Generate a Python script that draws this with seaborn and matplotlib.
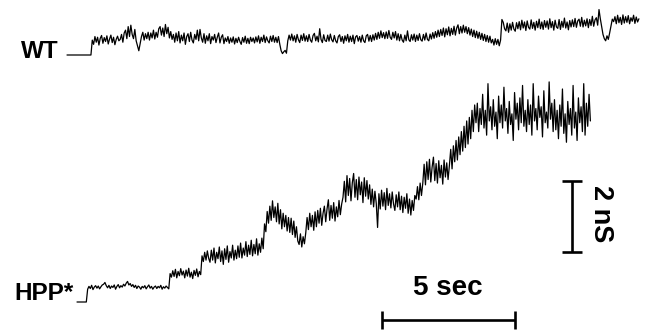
import numpy as np
import pandas as pd
import matplotlib
matplotlib.use("Agg")
import matplotlib.pyplot as plt
import seaborn as sns

# ---- data (conductance in nS relative to each trace's closed level, 0.05 s sampling) ----
dt = 0.05
wt_nS = [
    0, 0, 0, 0, 0, 0, 0, 0, 0, 0, 0, 0, 0, 0, 0, 0, 0, 0, 0, 0.42,
    0.30, 0.52, 0.36, 0.50, 0.28, 0.47, 0.55, 0.33, 0.49, 0.38, 0.54, 0.31, 0.45, 0.56, 0.35, 0.50, 0.29, 0.44, 0.53, 0.40,
    0.44, 0.58, 0.36, 0.62, 0.70, 0.46, 0.80, 0.52, 0.84, 0.58, 0.46, 0.72, 0.40, 0.26, 0.12, 0.32, 0.52, 0.64, 0.42, 0.60,
    0.46, 0.64, 0.42, 0.62, 0.48, 0.70, 0.45, 0.64, 0.50, 0.74, 0.80, 0.56, 0.76, 0.52, 0.86, 0.60, 0.78, 0.48, 0.66, 0.44,
    0.58, 0.36, 0.62, 0.40, 0.66, 0.34, 0.56, 0.40, 0.62, 0.30, 0.52, 0.60, 0.38, 0.64, 0.42, 0.34, 0.58, 0.44, 0.70, 0.40,
    0.72, 0.48, 0.36, 0.60, 0.33, 0.54, 0.40, 0.60, 0.32, 0.52, 0.42, 0.58, 0.35, 0.50, 0.62, 0.34, 0.50, 0.57, 0.32, 0.48,
    0.38, 0.52, 0.33, 0.48, 0.36, 0.51, 0.31, 0.47, 0.35, 0.50, 0.38, 0.30, 0.49, 0.36, 0.53, 0.33, 0.47, 0.32, 0.50, 0.38,
    0.48, 0.34, 0.51, 0.37, 0.54, 0.33, 0.50, 0.38, 0.56, 0.35, 0.51, 0.40, 0.34, 0.53, 0.38, 0.55, 0.36, 0.50, 0.35, 0.52,
    0.30, 0.12, 0.04, 0.09, 0.13, 0.05, 0.40, 0.56, 0.42, 0.59, 0.40, 0.54, 0.36, 0.58, 0.43, 0.35, 0.56, 0.41, 0.60, 0.39,
    0.54, 0.38, 0.58, 0.42, 0.36, 0.55, 0.61, 0.40, 0.53, 0.37, 0.74, 0.44, 0.35, 0.57, 0.41, 0.38, 0.56, 0.39, 0.59, 0.43,
    0.37, 0.55, 0.40, 0.34, 0.52, 0.57, 0.38, 0.52, 0.33, 0.54, 0.40, 0.58, 0.36, 0.53, 0.38, 0.56, 0.32, 0.51, 0.55, 0.39,
    0.52, 0.36, 0.56, 0.40, 0.35, 0.54, 0.58, 0.39, 0.55, 0.38, 0.57, 0.42, 0.61, 0.44, 0.64, 0.47, 0.68, 0.49, 0.63, 0.46,
    0.65, 0.47, 0.69, 0.50, 0.44, 0.64, 0.48, 0.66, 0.42, 0.60, 0.40, 0.58, 0.42, 0.36, 0.56, 0.40, 0.68, 0.43, 0.38, 0.57,
    0.42, 0.59, 0.38, 0.56, 0.41, 0.60, 0.43, 0.39, 0.58, 0.42, 0.62, 0.44, 0.40, 0.59, 0.45, 0.63, 0.47, 0.66, 0.50, 0.70,
    0.52, 0.72, 0.55, 0.76, 0.51, 0.74, 0.57, 0.79, 0.54, 0.75, 0.58, 0.81, 0.56, 0.76, 0.85, 0.60, 0.80, 0.62, 0.84, 0.64,
    0.80, 0.60, 0.77, 0.56, 0.73, 0.52, 0.70, 0.49, 0.67, 0.47, 0.64, 0.44, 0.61, 0.41, 0.58, 0.38, 0.55, 0.36, 0.53, 0.34,
    0.44, 0.28, 0.46, 0.30, 0.44, 0.26, 0.42, 1.00, 0.92, 0.74, 0.68, 0.90, 0.64, 0.88, 0.70, 0.92, 0.73, 0.67, 0.91, 0.74,
    0.94, 0.71, 0.98, 0.76, 0.93, 0.69, 0.96, 0.78, 0.73, 0.99, 0.75, 0.92, 0.70, 0.95, 0.77, 1.01, 0.74, 0.93, 0.72, 0.97,
    0.78, 0.96, 0.73, 1.02, 0.77, 0.94, 0.70, 0.98, 0.79, 0.75, 1.00, 0.72, 0.95, 0.78, 1.04, 0.76, 0.93, 0.71, 0.97, 0.79,
    0.99, 0.80, 1.03, 0.78, 0.96, 1.01, 0.81, 1.06, 0.79, 0.98, 0.82, 1.02, 0.77, 1.00, 0.83, 1.09, 0.81, 0.99, 1.05, 0.84,
    1.28, 1.02, 0.80, 0.58, 0.46, 0.40, 0.54, 0.44, 0.62, 0.82, 1.01, 0.94, 1.08, 0.88, 1.12, 0.91, 1.06, 0.86, 1.13, 0.90,
    1.08, 0.92, 1.11, 0.88, 1.05, 0.95, 1.12, 0.89, 1.07, 0.93, 1.02]

hpp_nS = [
    0, 0, 0, 0, 0, 0, 0, 0, 0.36, 0.44, 0.38, 0.47, 0.35, 0.42, 0.46, 0.39, 0.45, 0.37, 0.43, 0.48,
    0.50, 0.55, 0.46, 0.40, 0.47, 0.38, 0.45, 0.41, 0.48, 0.36, 0.44, 0.49, 0.40, 0.46, 0.42, 0.50, 0.45, 0.53, 0.58, 0.48,
    0.52, 0.44, 0.49, 0.41, 0.47, 0.38, 0.45, 0.42, 0.36, 0.44, 0.40, 0.46, 0.37, 0.43, 0.48, 0.39, 0.44, 0.36, 0.42, 0.45,
    0.38, 0.44, 0.40, 0.47, 0.36, 0.43, 0.39, 0.45, 0.41, 0.37, 0.80, 0.70, 0.88, 0.72, 0.92, 0.68, 0.86, 0.74, 0.94, 0.76,
    0.87, 0.68, 0.90, 0.73, 0.95, 0.70, 0.84, 0.66, 0.89, 0.75, 0.93, 0.71, 0.86, 0.77, 1.30, 1.14, 1.40, 1.18, 1.44, 1.23,
    1.12, 1.46, 1.18, 1.52, 1.10, 1.40, 1.22, 1.55, 1.14, 1.44, 1.06, 1.50, 1.20, 1.58, 1.12, 1.42, 1.24, 1.60, 1.18, 1.46,
    1.22, 1.58, 1.26, 1.66, 1.24, 1.52, 1.32, 1.70, 1.28, 1.60, 1.34, 1.74, 1.30, 1.62, 1.36, 1.78, 1.32, 1.64, 1.40, 1.80,
    1.50, 2.20, 1.98, 2.55, 2.22, 2.70, 2.30, 2.85, 2.38, 2.68, 2.26, 2.78, 2.20, 2.60, 2.06, 2.50, 2.12, 2.44, 2.00, 2.38,
    1.96, 2.36, 1.90, 2.28, 1.82, 2.12, 1.72, 1.62, 1.92, 1.55, 1.84, 1.64, 1.95, 2.38, 2.04, 2.50, 2.12, 2.44, 2.02, 2.54,
    2.12, 2.58, 2.22, 2.64, 2.16, 2.50, 2.70, 2.26, 2.62, 2.88, 2.30, 2.72, 2.36, 2.80, 2.28, 2.68, 2.40, 2.86, 2.46, 2.76,
    2.95, 3.40, 2.82, 3.56, 3.00, 3.48, 2.85, 3.36, 3.62, 2.95, 3.45, 2.88, 3.52, 3.02, 3.38, 2.80, 3.50, 2.98, 3.42, 2.90,
    3.30, 2.75, 3.18, 2.68, 3.12, 2.78, 2.10, 3.05, 2.62, 3.15, 2.70, 3.08, 2.60, 3.20, 2.72, 3.05, 2.65, 3.10, 2.76, 2.58,
    3.02, 2.68, 3.10, 2.60, 2.98, 2.52, 2.95, 2.64, 3.05, 2.50, 2.90, 2.45, 2.86, 2.58, 3.00, 2.90, 3.25, 2.88, 3.35, 3.00,
    3.35, 3.88, 3.30, 3.95, 3.45, 4.02, 3.38, 3.80, 4.08, 3.42, 3.90, 3.35, 3.98, 3.50, 3.85, 3.32, 4.00, 3.52, 3.92, 3.45,
    3.85, 4.30, 3.75, 4.40, 3.95, 4.55, 4.00, 4.65, 4.15, 4.80, 4.25, 4.95, 4.35, 5.10, 4.45, 5.20, 4.60, 5.40, 4.80, 5.55,
    5.05, 5.60, 4.80, 5.45, 5.00, 5.85, 4.90, 5.40, 4.70, 6.15, 5.10, 5.50, 4.85, 5.70, 4.95, 5.35, 4.60, 5.80, 5.05, 5.55,
    4.90, 6.05, 5.10, 5.45, 4.75, 5.65, 5.00, 5.30, 4.55, 5.90, 5.15, 5.60, 4.85, 5.75, 5.05, 6.10, 4.95, 5.40, 4.80, 5.70,
    5.00, 5.55, 4.70, 6.15, 5.10, 5.45, 4.85, 5.80, 5.20, 5.50, 4.65, 5.95, 5.05, 5.35, 4.90, 6.20, 5.15, 5.60, 4.80, 5.70,
    4.85, 5.40, 4.60, 5.55, 4.95, 6.00, 4.75, 5.30, 4.50, 5.65, 5.00, 5.45, 4.70, 6.10, 4.90, 5.35, 4.55, 5.75, 5.05, 5.50,
    4.80, 6.15, 4.70, 5.60, 4.95, 5.85, 5.10]

scale_sec = 5
scale_nS = 2
labels = ["WT", "HPP*"]

# ---- layout (pixel calibration of the figure) ----
W, H = 654, 330
PX_PER_S, PX_PER_NS = 26.6, 35.5
X0, Y0 = 67, 302          # px of t=0, g=0


def tx(px):
    return (px - X0) / PX_PER_S


def gy(py):
    return (Y0 - py) / PX_PER_NS


wt_offset = gy(55)
hpp_t0 = tx(77)

t_wt = np.arange(len(wt_nS)) * dt
t_hpp = hpp_t0 + np.arange(len(hpp_nS)) * dt
df_wt = pd.DataFrame({"t": t_wt, "g": np.array(wt_nS) + wt_offset})
df_hpp = pd.DataFrame({"t": t_hpp, "g": np.array(hpp_nS)})

sns.set_theme(style="white")
plt.rcParams["font.family"] = ["Liberation Sans", "DejaVu Sans"]

fig = plt.figure(figsize=(W / 100, H / 100), dpi=100)
ax = fig.add_axes([0, 0, 1, 1])
ax.set_xlim(tx(0), tx(W))
ax.set_ylim(gy(H), gy(0))
ax.axis("off")

sns.lineplot(data=df_wt, x="t", y="g", ax=ax, color="black", lw=0.9,
             estimator=None, sort=False)
sns.lineplot(data=df_hpp, x="t", y="g", ax=ax, color="black", lw=0.9,
             estimator=None, sort=False)

# scale bars
bar_kw = dict(color="black", lw=1.9, solid_capstyle="butt")
hb_t0, hb_g = tx(382), gy(320)
ax.plot([hb_t0, hb_t0 + scale_sec], [hb_g, hb_g], **bar_kw)
cap_g = 9 / PX_PER_NS
for tt in (hb_t0, hb_t0 + scale_sec):
    ax.plot([tt, tt], [hb_g - cap_g, hb_g + cap_g], **bar_kw)

vb_t, vb_g0 = tx(572), gy(252)
ax.plot([vb_t, vb_t], [vb_g0, vb_g0 + scale_nS], **bar_kw)
cap_t = 10 / PX_PER_S
for gg in (vb_g0, vb_g0 + scale_nS):
    ax.plot([vb_t - cap_t, vb_t + cap_t], [gg, gg], **bar_kw)

txt_kw = dict(fontweight="bold", color="black")
ax.text(tx(59), gy(51), labels[0], ha="right", va="center", fontsize=17.5, **txt_kw)
ax.text(tx(14), gy(294), labels[1], ha="left", va="center", fontsize=17.5, **txt_kw)
ax.text(tx(448), gy(288), f"{scale_sec} sec", ha="center", va="center",
        fontsize=20, **txt_kw)
ax.text(tx(601), gy(214), f"{scale_nS} nS", ha="center", va="center",
        rotation=270, fontsize=19.5, **txt_kw)

fig.savefig("out.png", dpi=100, facecolor="white")
